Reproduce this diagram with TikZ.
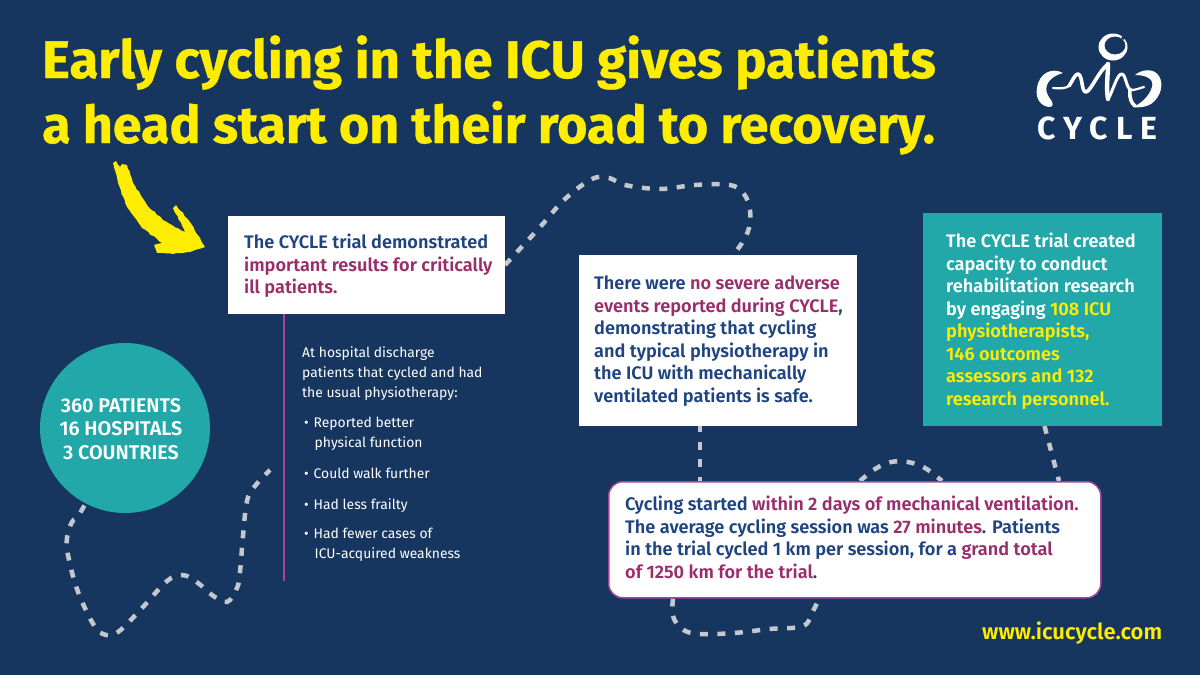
\documentclass[tikz,border=0pt]{standalone}
\usepackage{fontspec}
\setmainfont{Fira Sans}
\newfontfamily\titlefont[FakeBold=0.6]{Fira Sans Bold}
\newfontfamily\boxfont{Fira Sans SemiBold}
\newfontfamily\logofont[LetterSpace=26]{Fira Sans Bold}
\usetikzlibrary{decorations.pathmorphing}
\definecolor{bgnavy}{HTML}{16355F}
\definecolor{sunny}{HTML}{FFED00}
\definecolor{tealbox}{HTML}{22A8A8}
\definecolor{inkblue}{HTML}{1F4480}
\definecolor{plum}{HTML}{9A2D6C}
\definecolor{lineplum}{HTML}{A5459A}
\definecolor{trail}{HTML}{C3C8CE}
\newcommand{\pl}[1]{\textcolor{plum}{#1}}
\newcommand{\ye}[1]{\textcolor{sunny}{#1}}
\pgfdeclarelayer{back}
\pgfdeclarelayer{trails}
\pgfsetlayers{back,trails,main}
\tikzset{
  trailline/.style={draw=trail,line width=4.5pt,dash pattern=on 8pt off 9.5pt},
  card/.style={fill=white,anchor=north west,inner sep=0pt,outer sep=0pt},
  cardtext/.style={anchor=north west,align=left,inner sep=0pt,font=\boxfont\fontsize{18.15}{22.5}\selectfont,text=inkblue},
  smalltext/.style={anchor=north west,align=left,inner sep=0pt,font=\fontsize{13.9}{20}\selectfont,text=white},
  titletext/.style={anchor=base west,inner sep=0pt,text=sunny,font=\titlefont\fontsize{52.8}{65}\selectfont},
  titletextb/.style={titletext,font=\titlefont\fontsize{51.9}{65}\selectfont},
  logoshape/.style={fill=white,draw=none}
}
\begin{document}
\begin{tikzpicture}[x=1pt,y=-1pt]
\useasboundingbox (0,0) rectangle (1200,675);
\begin{pgfonlayer}{back}
\fill[bgnavy] (0,0) rectangle (1200,675);
\end{pgfonlayer}

\node[card,minimum width=277pt,minimum height=98pt] (result) at (228,216) {};
\node[card,minimum width=278pt,minimum height=171pt] (safe) at (579,255) {};
\node[fill=tealbox,anchor=north west,inner sep=0pt,outer sep=0pt,minimum width=239pt,minimum height=213pt] (capacity) at (923,213) {};
\node[fill=tealbox,circle,inner sep=0pt,outer sep=0pt,minimum size=170pt] (stats) at (125,428) {};
\node[fill=white,draw=lineplum,line width=1.5pt,rounded corners=14pt,anchor=north west,inner sep=0pt,minimum width=492pt,minimum height=116pt] (session) at (608,481) {};

\begin{pgfonlayer}{trails}
\draw[trailline] plot[smooth,tension=0.6] coordinates {(result.east) (517,252) (541,226) (565,199) (592,179) (609,178) (625,185) (660,189) (695,185) (730,185) (744,194) (750,210) (749,228) (742,243) (safe.north -| 733,0)};
\draw[trailline] plot[smooth,tension=0.6] coordinates {(stats.center) (83,508) (72,522) (67,538) (68,555) (77,589) (92,622) (103,634) (118,632) (143,607) (167,581) (183,575) (198,583) (212,595) (227,602) (237,588) (240,572) (243,536) (247,501) (255,486) (270,470)};
\draw[trailline,dash phase=2pt] (safe.south -| 700,0) -- (session.north -| 700,0);
\draw[trailline] plot[smooth,tension=0.6] coordinates {(session.north -| 860,0) (875,469) (891,462) (908,462) (925,468) (session.north -| 942,0)};
\draw[trailline] (capacity.south -| 1044.5,0) -- (session.north -| 1059,0);
\draw[trailline] plot[smooth,tension=0.6] coordinates {(session.south -| 673,0) (673,616) (682,629) (699,634) (734,633) (769,629) (803,626) (813,611) (session.south -| 819,0)};
\end{pgfonlayer}

\coordinate (ruleend) at (283.5,581);
\draw[lineplum,line width=2pt] (result.south -| ruleend) -- (ruleend);

\node[titletext] (title) at (42,78) {Early cycling in the ICU gives patients};
\node[titletextb] (title2) at (42,143) {a head start on their road to recovery.};

\node[cardtext] (t1) at (244,234) {The CYCLE trial demonstrated\\ \pl{important results for critically}\\ \pl{ill patients.}};
\node[cardtext] (t2) at (594,276) {There were \pl{no severe adverse}\\ \pl{events reported during CYCLE},\\ demonstrating that cycling\\ and typical physiotherapy in\\ the ICU with mechanically\\ ventilated patients is safe.};
\node[cardtext,text=white] (t3) at (946,233) {The CYCLE trial created\\ capacity to conduct\\ rehabilitation research\\ by engaging \ye{108 ICU}\\ \ye{physiotherapists,}\\ \ye{146 outcomes}\\ \ye{assessors and 132}\\ \ye{research personnel.}};
\node[cardtext] (t4) at (625,496) {Cycling started \pl{within 2 days of mechanical ventilation.}\\ The average cycling session was \pl{27 minutes}. Patients\\ in the trial cycled 1 km per session, for a \pl{grand total}\\ \pl{of 1250 km for the trial}.};
\node[anchor=center,align=center,inner sep=0pt,text=white,font=\boxfont\fontsize{19.8}{23.6}\selectfont] (t5) at ([xshift=-4pt,yshift=-1pt]stats.center) {360 PATIENTS\\ 16 HOSPITALS\\ 3 COUNTRIES};

\node[smalltext] (l1) at (302,346) {At hospital discharge\\ patients that cycled and had\\ the usual physiotherapy:};
\node[smalltext] (b1) at (304,417) {•\hspace{5pt}Reported better\\ \hspace{10.5pt}physical function};
\node[smalltext] (b2) at (304,468) {•\hspace{5pt}Could walk further};
\node[smalltext] (b3) at (304,498) {•\hspace{5pt}Had less frailty};
\node[smalltext] (b4) at (304,528) {•\hspace{5pt}Had fewer cases of\\ \hspace{10.5pt}ICU-acquired weakness};

\node[anchor=base west,inner sep=0pt,text=sunny,font=\boxfont\fontsize{22}{24}\selectfont] (url) at (982,639) {www.icucycle.com};

\node[anchor=base west,inner sep=0pt,text=white,font=\logofont\fontsize{32}{33}\selectfont] (cycleword) at (1037,139) {CYCLE};

% logo glyph
\fill[logoshape,even odd rule] (1113,47) ellipse [x radius=14.5,y radius=13.5] (1115,45.5) ellipse [x radius=10.5,y radius=9];
\fill[bgnavy] (1121,38) -- (1126,33) -- (1129,35) -- (1123,40) -- cycle;
\fill[logoshape] (1063,73) .. controls (1052,67) and (1039,73) .. (1037,88) .. controls (1035,99) and (1041,106) .. (1049,107) .. controls (1054,107) and (1053,103) .. (1051,100) .. controls (1047,95) and (1045,90) .. (1047,85) .. controls (1050,78) and (1056,75) .. (1063,73) -- cycle;
\fill[logoshape] (1135,75) .. controls (1142,69) and (1154,68) .. (1159,76) .. controls (1164,84) and (1161,97) .. (1151,104) .. controls (1146,107) and (1139,108) .. (1133,107) .. controls (1140,104) and (1149,97) .. (1152,87) .. controls (1154,80) and (1148,75) .. (1135,75) -- cycle;
\draw[white,line width=2.2pt,line cap=round,line join=round] (1053,88) .. controls (1060,88.5) and (1066,89) .. (1070,85);
\draw[white,line width=3.6pt,line cap=round,line join=round] (1069,86) .. controls (1073,80) and (1075,74) .. (1078,74) .. controls (1083,75) and (1081,92) .. (1086,92) .. controls (1091,91) and (1098,72) .. (1108,64);
\draw[white,line width=4.4pt,line cap=round] (1108,64) .. controls (1108,74) and (1106,88) .. (1108,99);
\draw[white,line width=3pt,line cap=round,line join=round] (1108,99) .. controls (1112,94) and (1117,73) .. (1122,74) .. controls (1126,75) and (1126,88) .. (1131,90);
\draw[white,line width=2.2pt,line cap=round] (1131,90) .. controls (1136,90) and (1140,88) .. (1144,87);
\draw[white,line width=3.6pt,line cap=round] (1130,90) .. controls (1129,97) and (1131,103) .. (1135,106);

% chalk arrow
\fill[sunny,decorate,decoration={random steps,segment length=3.5pt,amplitude=0.6pt}] (113,163) -- (116,161) -- (120,167) -- (122,164) -- (127,165) -- (133,183) -- (147,205) -- (163,220) -- (185,232) -- (173,208) -- (176,205) -- (190,222) -- (205,247) -- (190,252) -- (173,254) -- (157,253) -- (154,245) -- (162,243) -- (142,228) -- (127,207) -- (118,183) -- cycle;
\end{tikzpicture}
\end{document}
